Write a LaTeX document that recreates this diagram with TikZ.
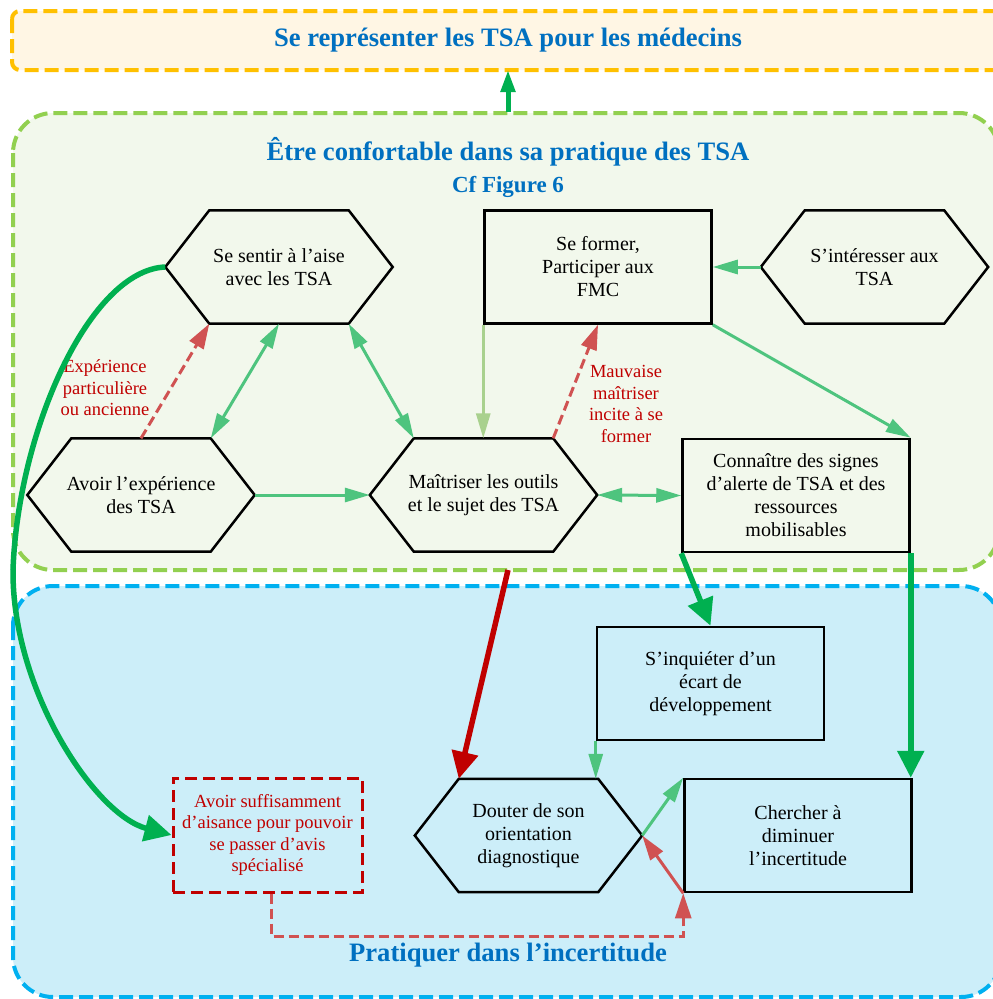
\documentclass[tikz,border=0pt]{standalone}
\usepackage{fontspec}
\setmainfont{Liberation Serif}
\usetikzlibrary{arrows.meta,calc}
\definecolor{ttlblue}{HTML}{0070C0}
\definecolor{orangeb}{HTML}{FFC000}
\definecolor{creamf}{HTML}{FFF6E4}
\definecolor{greenb}{HTML}{92D050}
\definecolor{greenf}{HTML}{F2F8EC}
\definecolor{blueb}{HTML}{00B0F0}
\definecolor{bluef}{HTML}{CCEEF9}
\definecolor{gthick}{HTML}{00B050}
\definecolor{gmed}{RGB}{78,196,126}
\definecolor{glight}{HTML}{A9D18E}
\definecolor{rdark}{HTML}{C00000}
\definecolor{rlight}{RGB}{208,82,82}
\newcommand\hexpath[1]{\draw[nodeline] (#1.west) -- ([xshift=44pt]#1.north west) -- ([xshift=-44pt]#1.north east) -- (#1.east) -- ([xshift=-44pt]#1.south east) -- ([xshift=44pt]#1.south west) -- cycle;}
\begin{document}
\begin{tikzpicture}[x=1pt,y=-1pt,
  zone/.style={line width=4pt,dash pattern=on 14pt off 6pt},
  ttl/.style={font=\fontsize{26.6}{30}\selectfont\bfseries,text=ttlblue,inner sep=0pt},
  nodeline/.style={draw=black,line width=2.5pt,line join=miter},
  boxn/.style={minimum width=227pt,minimum height=113pt,inner sep=0pt,align=center,font=\fontsize{20}{23}\selectfont},
  rectn/.style={boxn,nodeline},
  redlbl/.style={align=center,text=rdark,font=\fontsize{18.5}{21.5}\selectfont,inner sep=0pt},
  medarr/.style={draw=gmed,line width=3pt,-{Triangle[length=25pt,width=14pt]}},
  dblarr/.style={draw=gmed,line width=3pt,{Triangle[length=25pt,width=14pt]}-{Triangle[length=25pt,width=14pt]}},
  thickg/.style={draw=gthick,line width=5.5pt,-{Triangle[length=27pt,width=26pt]}},
  thickr/.style={draw=rdark,line width=5.5pt,-{Triangle[length=27pt,width=26pt]}},
  reddash/.style={draw=rlight,line width=3pt,dash pattern=on 10pt off 5pt,-{Triangle[length=25pt,width=16pt]}},
  redsolid/.style={draw=rlight,line width=3pt,-{Triangle[length=25pt,width=15pt]}}
]
\useasboundingbox (0,0) rectangle (993,999);
\clip (0,0) rectangle (993,999);
% zones
\draw[zone,draw=orangeb,fill=creamf,rounded corners=8pt] (12,11) rectangle (1015,70);
\draw[zone,draw=greenb,fill=greenf,rounded corners=40pt] (13,113) rectangle (999,570);
\draw[zone,draw=blueb,fill=bluef,rounded corners=40pt] (13,586) rectangle (1001,997);
% titles
\node[ttl] (t1) at (508,40) {Se représenter les TSA pour les médecins};
\node[ttl] (t2) at (508,152) {Être confortable dans sa pratique des TSA};
\node[ttl,font=\fontsize{23}{26}\selectfont\bfseries] (t3) at (508,187) {Cf Figure 6};
\node[ttl] (t4) at (508,955) {Pratiquer dans l’incertitude};
\coordinate (gtop) at (508,112);
\coordinate (bbot) at (508,70);
\coordinate (gbot) at (508,570);
% nodes
\node[boxn] (sentir) at (279,267) {Se sentir à l’aise\\avec les TSA};
\hexpath{sentir}
\node[boxn] (avoir) at (141,495) {Avoir l’expérience\\des TSA};
\hexpath{avoir}
\node[boxn] (maitriser) at (483.5,495) {Maîtriser les outils\\et le sujet des TSA};
\hexpath{maitriser}
\node[rectn] (former) at (598,267) {Se former,\\Participer aux\\FMC};
\node[boxn] (interesser) at (874.5,267) {S’intéresser aux\\TSA};
\hexpath{interesser}
\node[rectn] (connaitre) at (796,495.5) {Connaître des signes\\d’alerte de TSA et des\\ressources\\mobilisables};
\node[rectn] (inquieter) at (710.5,683.5) {S’inquiéter d’un\\écart de\\développement};
\node[boxn] (douter) at (528.5,835.5) {Douter de son\\orientation\\diagnostique};
\hexpath{douter}
\node[rectn] (chercher) at (798,835.5) {Chercher à\\diminuer\\l’incertitude};
\node[draw=rdark,line width=3pt,dash pattern=on 12pt off 6pt,minimum width=189pt,minimum height=114pt,inner sep=0pt,align=center,text=rdark,font=\fontsize{18.5}{21.5}\selectfont] (aisance) at (267.5,835) {Avoir suffisamment\\d’aisance pour pouvoir\\se passer d’avis\\spécialisé};
% labels
\node[redlbl] (lb1) at (105,388) {Expérience\\particulière\\ou ancienne};
\node[redlbl] (lb2) at (626,404) {Mauvaise\\maîtriser\\incite à se\\former};
% connectors
\draw[draw=gthick,line width=5pt,-{Triangle[length=22pt,width=14pt]}] (gtop) -- (bbot);
\draw[dblarr] (sentir.south) -- ([xshift=-44pt]avoir.north east);
\draw[dblarr] ([xshift=-44pt]sentir.south east) -- ([xshift=44pt]maitriser.north west);
\draw[reddash] (avoir.north) -- ([xshift=44pt]sentir.south west);
\draw[medarr] (avoir.east) -- (maitriser.west);
\draw[medarr,draw=glight] (former.south west) -- (former.south west |- maitriser.north);
\draw[reddash] ([xshift=-44pt]maitriser.north east) -- (former.south);
\draw[medarr] (interesser.west) -- (former.east);
\draw[medarr] (former.south east) -- (connaitre.north east);
\draw[dblarr] (maitriser.east) -- (connaitre.west);
\draw[thickr] (gbot) -- ([xshift=44pt]douter.north west);
\draw[thickg] (connaitre.south west) -- (inquieter.north);
\draw[thickg] (connaitre.south east) -- (connaitre.south east |- chercher.north);
\draw[medarr] (inquieter.south west) -- (inquieter.south west |- douter.north);
\draw[medarr] (douter.east) -- (chercher.north west);
\draw[redsolid] (chercher.south west) -- (douter.east);
\draw[reddash,line width=2.5pt] ([xshift=4pt]aisance.south) -- ++(0,43) -| (chercher.south west);
\draw[thickg] (sentir.west) .. controls (90,270) and (18,430) .. (13,570) .. controls (12,690) and (95,815) .. (aisance.west);
\end{tikzpicture}
\end{document}
